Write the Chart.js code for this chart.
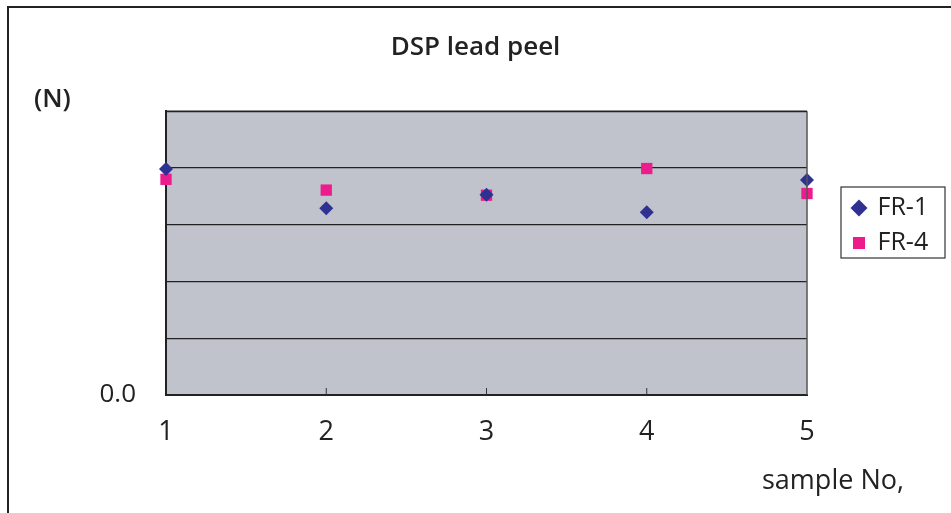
<!DOCTYPE html>
<html>
<head>
<meta charset="utf-8">
<script src="https://cdn.jsdelivr.net/npm/chart.js@4/dist/chart.umd.min.js"></script>
<style>
  html, body { margin: 0; padding: 0; background: #fff; }
  #wrap { width: 951px; height: 513px; }
</style>
</head>
<body>
<div id="wrap"><canvas id="peel"></canvas></div>
<script>
const samples = [1, 2, 3, 4, 5];
const fr1 = [3.98, 3.29, 3.53, 3.22, 3.79];
const fr4 = [3.80, 3.61, 3.52, 3.99, 3.55];
const yTicks = [0, 1, 2, 3, 4, 5];

const FONT = "'Open Sans', 'DejaVu Sans', sans-serif";

const frame = {
  id: 'frame',
  beforeDraw(chart) {
    const { ctx, chartArea: a } = chart;
    ctx.save();
    ctx.fillStyle = '#c0c3cb';
    ctx.fillRect(a.left, a.top, a.right - a.left, a.bottom - a.top);
    ctx.restore();
  },
  afterDatasetsDraw(chart) {
    const { ctx, chartArea: a, scales } = chart;
    ctx.save();
    // plot frame
    ctx.lineWidth = 1.5;
    ctx.strokeStyle = '#555';
    ctx.beginPath();
    ctx.moveTo(a.right, a.top);
    ctx.lineTo(a.right, a.bottom);
    ctx.stroke();
    ctx.strokeStyle = '#222';
    ctx.beginPath();
    ctx.moveTo(a.left, a.top);
    ctx.lineTo(a.right, a.top);
    ctx.stroke();
    // small inside ticks on x axis
    ctx.lineWidth = 1;
    ctx.strokeStyle = '#333';
    samples.slice(1, -1).forEach(s => {
      const x = scales.x.getPixelForValue(s);
      ctx.beginPath();
      ctx.moveTo(x, a.bottom);
      ctx.lineTo(x, a.bottom - 7);
      ctx.stroke();
    });
    ctx.restore();
  },
  afterDraw(chart) {
    const { ctx } = chart;
    ctx.save();
    // outer border
    ctx.strokeStyle = '#222';
    ctx.lineWidth = 2;
    ctx.beginPath();
    ctx.moveTo(8, 513);
    ctx.lineTo(8, 7);
    ctx.lineTo(951, 7);
    ctx.stroke();
    // legend frame
    ctx.lineWidth = 1.2;
    ctx.strokeStyle = '#333';
    ctx.strokeRect(841, 187, 104, 71);
    // texts
    ctx.fillStyle = '#222';
    ctx.textBaseline = 'middle';
    ctx.textAlign = 'left';
    ctx.font = '600 26px ' + FONT;
    ctx.fillText('(N)', 34, 100);
    ctx.font = '400 27px ' + FONT;
    ctx.fillText('sample No,', 762, 481);
    ctx.restore();
  },
  afterLayout(chart) {
    const lg = chart.legend;
    if (!lg) return;
    const w = lg.width, h = lg.height;
    lg.left = 843; lg.top = 185.5;
    lg.right = lg.left + w; lg.bottom = lg.top + h;
  }
};

new Chart(document.getElementById('peel'), {
  type: 'scatter',
  data: {
    datasets: [
      {
        label: 'FR-1',
        data: samples.map((s, i) => ({ x: s, y: fr1[i] })),
        pointStyle: 'rectRot',
        pointRadius: 7,
        backgroundColor: '#2e3192',
        borderColor: '#2e3192',
        borderWidth: 0,
        clip: false
      },
      {
        label: 'FR-4',
        data: samples.map((s, i) => ({ x: s, y: fr4[i] })),
        pointStyle: 'rect',
        pointRadius: 8,
        backgroundColor: '#ec1c8c',
        borderColor: '#ec1c8c',
        borderWidth: 0,
        clip: false
      }
    ]
  },
  options: {
    responsive: true,
    maintainAspectRatio: false,
    animation: false,
    layout: { padding: 0 },
    plugins: {
      title: {
        display: true,
        text: 'DSP lead peel',
        color: '#222',
        font: { family: FONT, size: 26, weight: '600' },
        padding: { top: 32, bottom: 48 }
      },
      legend: {
        position: 'chartArea',
        align: 'start',
        labels: {
          usePointStyle: true,
          boxWidth: 12,
          boxHeight: 12,
          padding: 10,
          color: '#222',
          font: { family: FONT, size: 25 }
        }
      },
      tooltip: { enabled: false }
    },
    scales: {
      x: {
        type: 'linear',
        min: samples[0],
        max: samples[samples.length - 1],
        afterFit(scale) { scale.height = 118; },
        afterBuildTicks(scale) { scale.ticks = samples.map(v => ({ value: v })); },
        grid: { display: false, drawTicks: false },
        border: { display: true, color: '#222', width: 2 },
        ticks: {
          padding: 21,
          color: '#222',
          font: { family: FONT, size: 27, weight: '500' }
        }
      },
      y: {
        min: 0,
        max: 5,
        afterFit(scale) { scale.width = 166; },
        afterBuildTicks(scale) { scale.ticks = yTicks.map(v => ({ value: v })); },
        grid: { color: '#222', lineWidth: 1.2, drawTicks: false },
        border: { display: true, color: '#222', width: 2 },
        ticks: {
          padding: 30,
          color: '#222',
          font: { family: FONT, size: 26, weight: '500' },
          callback: v => (v === 0 ? '0.0' : '')
        }
      },
      // empty right-hand box that keeps room for the legend
      side: {
        position: 'right',
        min: 0,
        max: 5,
        afterFit(scale) { scale.width = 144; },
        grid: { display: false },
        border: { display: false },
        ticks: { display: false }
      }
    }
  },
  plugins: [frame]
});
</script>
</body>
</html>
